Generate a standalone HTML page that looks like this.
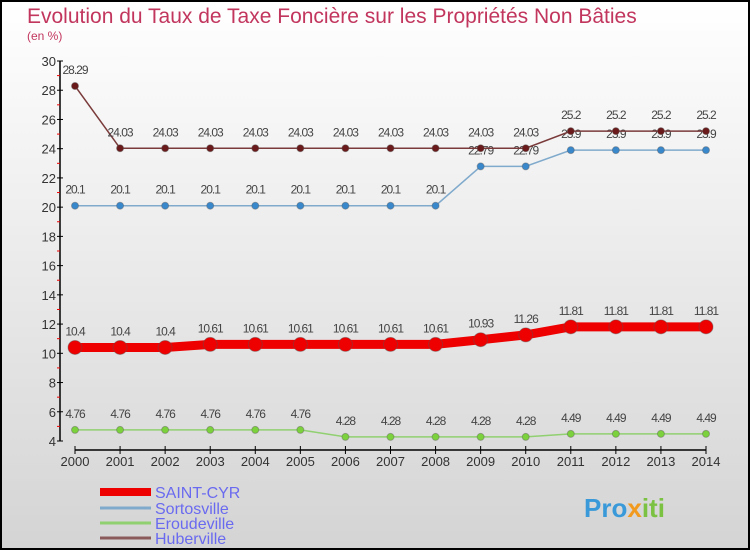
<!DOCTYPE html>
<html><head><meta charset="utf-8"><style>
body{margin:0}
svg{display:block;font-family:"Liberation Sans",sans-serif}
</style></head><body>
<svg id="c" width="750" height="550" viewBox="0 0 750 550">
<defs><linearGradient id="bg" x1="0" y1="0" x2="0" y2="1"><stop offset="0" stop-color="#ffffff"/><stop offset="1" stop-color="#d4d4d4"/></linearGradient></defs>
<rect x="1" y="1" width="748" height="548" fill="url(#bg)" stroke="#000" stroke-width="2"/>
<text x="27" y="23" font-size="21" fill="#c2365e">Evolution du Taux de Taxe Foncière sur les Propriétés Non Bâties</text>
<text x="27" y="40" font-size="12" fill="#c2365e">(en %)</text>
<g id="axes"></g><g id="series"></g><g id="legend"></g>
<text x="584" y="517" font-size="26" font-weight="bold" fill="#3a9ad9">Pro<tspan fill="#f29a1e">x</tspan><tspan fill="#7cc242">iti</tspan></text>
</svg>
<script>
const years=[2000,2001,2002,2003,2004,2005,2006,2007,2008,2009,2010,2011,2012,2013,2014];
const yTicks=[4,6,8,10,12,14,16,18,20,22,24,26,28,30];
const saintCyr=[10.4,10.4,10.4,10.61,10.61,10.61,10.61,10.61,10.61,10.93,11.26,11.81,11.81,11.81,11.81];
const sortosville=[20.1,20.1,20.1,20.1,20.1,20.1,20.1,20.1,20.1,22.79,22.79,23.9,23.9,23.9,23.9];
const eroudeville=[4.76,4.76,4.76,4.76,4.76,4.76,4.28,4.28,4.28,4.28,4.28,4.49,4.49,4.49,4.49];
const huberville=[28.29,24.03,24.03,24.03,24.03,24.03,24.03,24.03,24.03,24.03,24.03,25.2,25.2,25.2,25.2];
const NS="http://www.w3.org/2000/svg";
function X(i){return 75+i*(706-75)/(years.length-1);}
function Y(v){return 441-(v-4)*(441-61)/26;}
function mk(p,t,a){const e=document.createElementNS(NS,t);for(const k in a)e.setAttribute(k,a[k]);p.appendChild(e);return e;}
const ax=document.getElementById('axes');
let l=mk(ax,'line',{x1:60,y1:Y(30),x2:60,y2:Y(4),stroke:'#000','stroke-width':1.5});


l=mk(ax,'line',{x1:X(0),y1:450,x2:X(14),y2:450,stroke:'#000','stroke-width':1.5});


yTicks.forEach(v=>{
 mk(ax,'line',{x1:57,y1:Y(v),x2:63,y2:Y(v),stroke:'#000'});
 mk(ax,'line',{x1:57,y1:Y(v+1),x2:60,y2:Y(v+1),stroke:v<30?'#e00':'none'});
 const t=mk(ax,'text',{x:56,y:Y(v)+5,'font-size':13,fill:'#333','text-anchor':'end'});
 t.textContent=v;
 
 
});
years.forEach((yr,i)=>{
 mk(ax,'line',{x1:X(i),y1:446,x2:X(i),y2:454,stroke:'#000'});
 const t=mk(ax,'text',{x:X(i),y:466,'font-size':13,fill:'#333','text-anchor':'middle'});
 t.textContent=yr;
 
 
});
const S=document.getElementById('series');
function draw(name,vals,color,w,r,dot){
 const g=mk(S,'g',{});
 
 
 mk(g,'polyline',{points:vals.map((v,i)=>X(i)+','+Y(v)).join(' '),fill:'none',stroke:color,'stroke-width':w});
 vals.forEach((v,i)=>{
  const c=mk(g,'circle',{cx:X(i),cy:Y(v),r:r,fill:dot,stroke:'#555','stroke-opacity':0.4});
  
  
  const t=mk(g,'text',{x:X(i),y:Y(v)-12,'font-size':12,fill:'#444','text-anchor':'middle','letter-spacing':'-1'});
  t.textContent=String(v).replace(/\./,'.');
  
  
 });
}
draw('eroudeville',eroudeville,'#90d070',1.5,3.5,'#7cd23c');
draw('sortosville',sortosville,'#80aacc',1.5,3.5,'#3a88cc');
draw('huberville',huberville,'#7a3a3a',1.5,3.5,'#6a1a1a');
draw('saint-cyr',saintCyr,'#ee0000',9,7,'#ee0000');
const L=document.getElementById('legend');
[['SAINT-CYR','#ee0000',8,492],['Sortosville','#80aacc',3,508],['Eroudeville','#90d070',3,523],['Huberville','#8a5a5a',3,538]].forEach(d=>{
 const g=mk(L,'g',{});
 
 
 mk(g,'line',{x1:100,y1:d[3],x2:151,y2:d[3],stroke:d[1],'stroke-width':d[2]});
 const t=mk(g,'text',{x:155,y:d[3]+6,'font-size':16,fill:'#6a6af0'});
 t.textContent=d[0];
});
</script>
</body></html>
